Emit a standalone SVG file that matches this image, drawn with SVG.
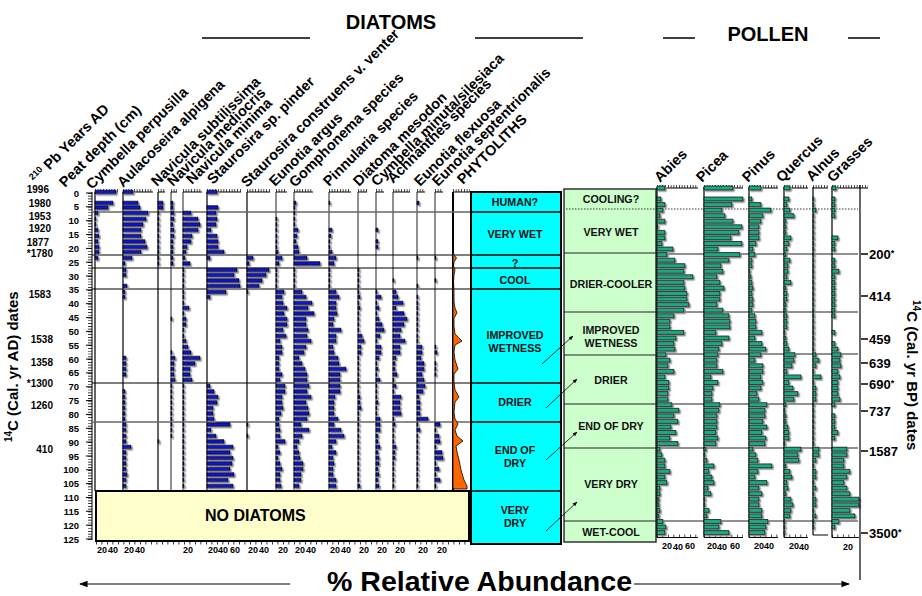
<svg xmlns="http://www.w3.org/2000/svg" width="922" height="596" viewBox="0 0 922 596">
<defs>
<filter id="sh" filterUnits="userSpaceOnUse" x="0" y="0" width="922" height="596"><feDropShadow dx="1.5" dy="1.5" stdDeviation="0" flood-color="#8c8c8c" flood-opacity="1"/></filter>
<marker id="ah" viewBox="0 0 10 10" refX="9" refY="5" markerWidth="6" markerHeight="6" orient="auto"><path d="M0 1L10 5L0 9z" fill="#000"/></marker>
<marker id="ab" viewBox="0 0 10 10" refX="9" refY="5" markerWidth="9" markerHeight="7" orient="auto"><path d="M0 1L10 5L0 9z" fill="#000"/></marker>
<style>
text{font-family:"Liberation Sans",Arial,sans-serif;font-weight:bold;fill:#000}
.hd{font-size:14.5px}
.ti{font-size:20px;text-anchor:middle}
.z{font-size:10.7px;text-anchor:middle;fill:#111}
.dp{font-size:9.5px;text-anchor:end}
.yr{font-size:10px;text-anchor:end}
.bl{font-size:9px;text-anchor:middle}
.rl{font-size:13px}
.db{fill:#0a12c8;stroke:#000;stroke-width:0.7}
.pb{fill:#1aa880;stroke:#000;stroke-width:0.7}
.ax{stroke:#000;stroke-width:1;fill:none}
.tk{stroke:#000;stroke-width:3;stroke-dasharray:0.7 2.05;fill:none}
.hl{stroke:#000;stroke-width:1.2;fill:none}
</style>
</defs>
<rect width="922" height="596" fill="#fff"/>

<g id="titles">
<text class="ti" x="391" y="29">DIATOMS</text>
<text class="ti" x="768" y="41">POLLEN</text>
<path d="M202 38H310M475 38H583M663 38H695M848 38H880" stroke="#000" stroke-width="1.5"/>
</g>

<g id="headers" class="hd">
<text class="hd" transform="translate(36,184) rotate(-45)"><tspan font-size="9" dy="-5">210</tspan><tspan dy="5"> Pb Years AD</tspan></text>
<text class="hd" transform="translate(65,188) rotate(-45)">Peat depth (cm)</text>
<text class="hd" transform="translate(92,190) rotate(-45)">Cymbella perpusilla</text>
<text class="hd" transform="translate(123,188) rotate(-45)">Aulacoseira alpigena</text>
<text class="hd" transform="translate(157,187) rotate(-45)">Navicula subtilissima</text>
<text class="hd" transform="translate(173,187) rotate(-45)">Navicula mediocris</text>
<text class="hd" transform="translate(192,185) rotate(-45)">Navicula minima</text>
<text class="hd" transform="translate(213,185) rotate(-45)">Staurosira sp. pinder</text>
<text class="hd" transform="translate(247,188) rotate(-45)">Staurosira construens v. venter</text>
<text class="hd" transform="translate(275,187) rotate(-45)">Eunotia argus</text>
<text class="hd" transform="translate(295,188) rotate(-45)">Gomphonema species</text>
<text class="hd" transform="translate(329,187) rotate(-45)">Pinnularia species</text>
<text class="hd" transform="translate(359,187) rotate(-45)">Diatoma mesodon</text>
<text class="hd" transform="translate(377,187) rotate(-45)">Cymbella minuta/silesiaca</text>
<text class="hd" transform="translate(393,184) rotate(-45)">Achnanthes species</text>
<text class="hd" transform="translate(420,187) rotate(-45)">Eunotia flexuosa</text>
<text class="hd" transform="translate(438,187) rotate(-45)">Eunotia septentrionalis</text>
<text class="hd" transform="translate(463,185) rotate(-45)">PHYTOLITHS</text>
<text class="hd" transform="translate(660,183) rotate(-45)">Abies</text>
<text class="hd" transform="translate(702,183) rotate(-45)">Picea</text>
<text class="hd" transform="translate(748,183) rotate(-45)">Pinus</text>
<text class="hd" transform="translate(782,183) rotate(-45)">Quercus</text>
<text class="hd" transform="translate(812,182) rotate(-45)">Alnus</text>
<text class="hd" transform="translate(833,183) rotate(-45)">Grasses</text>
</g>

<g id="axis-titles">
<text transform="translate(18,442) rotate(-90)" font-size="15"><tspan font-size="10" dy="-6">14</tspan><tspan dy="6">C (Cal. yr AD) dates</tspan></text>
<text transform="translate(907,300) rotate(90)" font-size="15"><tspan font-size="10" dy="-6">14</tspan><tspan dy="6">C (Cal. yr BP) dates</tspan></text>
<text x="327" y="591" font-size="28" textLength="305" lengthAdjust="spacingAndGlyphs">% Relative Abundance</text>
<path d="M290 584H80" stroke="#000" stroke-width="1.2" marker-end="url(#ab)"/>
<path d="M634 584H849" stroke="#000" stroke-width="1.2" marker-end="url(#ab)"/>
</g>

<g id="years" class="yr">
<text class="yr" x="49" y="193">1996</text>
<text class="yr" x="51" y="207">1980</text>
<text class="yr" x="51" y="220">1953</text>
<text class="yr" x="51" y="232">1920</text>
<text class="yr" x="49" y="245.5">1877</text>
<text class="yr" x="53" y="256.5">*1780</text>
<text class="yr" x="51" y="298">1583</text>
<text class="yr" x="53" y="343">1538</text>
<text class="yr" x="53" y="366">1358</text>
<text class="yr" x="53" y="387">*1300</text>
<text class="yr" x="53" y="409">1260</text>
<text class="yr" x="53" y="453">410</text>
</g>

<g id="depth-axis">
<path d="M92 192V540" class="ax"/>
<path d="M90 193V540" stroke="#000" stroke-width="4" stroke-dasharray="0.7 2.07" fill="none"/>
<path d="M86 193h6M86 206.8h6M86 220.7h6M86 234.5h6M86 248.4h6M86 262.2h6M86 276h6M86 289.9h6M86 303.7h6M86 317.6h6M86 331.4h6M86 345.2h6M86 359.1h6M86 372.9h6M86 386.8h6M86 400.6h6M86 414.4h6M86 428.3h6M86 442.1h6M86 456h6M86 469.8h6M86 483.6h6M86 497.5h6M86 511.3h6M86 525.2h6M86 539h6" class="ax"/>
<text class="dp" x="79" y="196.5">0</text><text class="dp" x="79" y="210.3">5</text><text class="dp" x="79" y="224.2">10</text><text class="dp" x="79" y="238">15</text><text class="dp" x="79" y="251.9">20</text><text class="dp" x="79" y="265.7">25</text><text class="dp" x="79" y="279.5">30</text><text class="dp" x="79" y="293.4">35</text><text class="dp" x="79" y="307.2">40</text><text class="dp" x="79" y="321.1">45</text><text class="dp" x="79" y="334.9">50</text><text class="dp" x="79" y="348.7">55</text><text class="dp" x="79" y="362.6">60</text><text class="dp" x="79" y="376.4">65</text><text class="dp" x="79" y="390.3">70</text><text class="dp" x="79" y="404.1">75</text><text class="dp" x="79" y="417.9">80</text><text class="dp" x="79" y="431.8">85</text><text class="dp" x="79" y="445.6">90</text><text class="dp" x="79" y="459.5">95</text><text class="dp" x="79" y="473.3">100</text><text class="dp" x="79" y="487.1">105</text><text class="dp" x="79" y="501">110</text><text class="dp" x="79" y="514.8">115</text><text class="dp" x="79" y="528.7">120</text><text class="dp" x="79" y="542.5">125</text>
</g>

<g id="diatom-frame">
<path d="M95 192V491M123 192V491M158 192V491M207 192V491M247 192V491" stroke="#000" stroke-width="1.2"/>
<path d="M171 192V491M183 192V491M276 192V491M294 192V491M329 192V491M358 192V491M376 192V491M393 192V491M417 192V491M435 192V491" stroke="#555" stroke-width="1.3"/>
<path d="M453 192V491" stroke="#000" stroke-width="2"/>
<path d="M95 192H118M123 192H153M158 192H165M171 192H177M183 192H202M207 192H241M247 192H270M276 192H287M294 192H313M329 192H351M358 192H367M376 192H384M393 192H410M417 192H425M435 192H443M453 192H470" class="ax"/>
<path d="M95 190.5H118M123 190.5H153M158 190.5H165M171 190.5H177M183 190.5H202M207 190.5H241M247 190.5H270M276 190.5H287M294 190.5H313M329 190.5H351M358 190.5H367M376 190.5H384M393 190.5H410M417 190.5H425M435 190.5H443M453 190.5H470" class="tk"/>
<path d="M92 212H471" stroke="#666" stroke-width="1.3"/>
<path d="M92 255H471M92 268H471M92 289H471M92 383H471" class="hl"/>
<path d="M92 422H471" stroke="#666" stroke-width="1.3"/>
</g>

<g id="diatom-bars" class="db" filter="url(#sh)">
<path transform="translate(0,192)" d="M95-1.8h21v3.6h-21zM123-1.8h10v3.6h-10zM207-1.8h10v3.6h-10z"/>
<path transform="translate(0,203)" d="M95-1.8h18v3.6h-18zM123-1.8h15v3.6h-15zM158-1.8h5v3.6h-5zM171-1.8h2v3.6h-2zM294-1.8h2v3.6h-2zM329-1.8h1v3.6h-1zM417-1.8h2v3.6h-2z"/>
<path transform="translate(0,207.5)" d="M95-1.8h13v3.6h-13zM123-1.8h17v3.6h-17zM158-1.8h5v3.6h-5zM171-1.8h2v3.6h-2zM207-1.8h11v3.6h-11zM294-1.8h1v3.6h-1z"/>
<path transform="translate(0,213)" d="M95-1.8h3v3.6h-3zM123-1.8h25v3.6h-25zM158-1.8h1v3.6h-1zM171-1.8h3v3.6h-3zM183-1.8h8v3.6h-8zM207-1.8h9v3.6h-9zM294-1.8h1v3.6h-1z"/>
<path transform="translate(0,219)" d="M95-1.8h1v3.6h-1zM123-1.8h23v3.6h-23zM158-1.8h1v3.6h-1zM171-1.8h3v3.6h-3zM183-1.8h15v3.6h-15zM207-1.8h10v3.6h-10zM276-1.8h1v3.6h-1zM294-1.8h1v3.6h-1z"/>
<path transform="translate(0,224.5)" d="M95-1.8h1v3.6h-1zM123-1.8h20v3.6h-20zM158-1.8h1v3.6h-1zM171-1.8h2v3.6h-2zM183-1.8h17v3.6h-17zM207-1.8h9v3.6h-9zM276-1.8h1v3.6h-1zM294-1.8h1v3.6h-1z"/>
<path transform="translate(0,230)" d="M95-1.8h3v3.6h-3zM123-1.8h18v3.6h-18zM158-1.8h1v3.6h-1zM171-1.8h3v3.6h-3zM183-1.8h15v3.6h-15zM207-1.8h4v3.6h-4zM276-1.8h1v3.6h-1zM294-1.8h4v3.6h-4zM329-1.8h3v3.6h-3zM376-1.8h2v3.6h-2z"/>
<path transform="translate(0,236)" d="M95-1.8h4v3.6h-4zM123-1.8h18v3.6h-18zM158-1.8h1v3.6h-1zM171-1.8h3v3.6h-3zM183-1.8h9v3.6h-9zM207-1.8h10v3.6h-10zM276-1.8h1v3.6h-1zM294-1.8h3v3.6h-3zM329-1.8h2v3.6h-2z"/>
<path transform="translate(0,241.5)" d="M95-1.8h3v3.6h-3zM123-1.8h22v3.6h-22zM158-1.8h1v3.6h-1zM171-1.8h2v3.6h-2zM183-1.8h8v3.6h-8zM207-1.8h11v3.6h-11zM276-1.8h1v3.6h-1zM294-1.8h2v3.6h-2zM329-1.8h1v3.6h-1zM376-1.8h2v3.6h-2z"/>
<path transform="translate(0,247)" d="M95-1.8h4v3.6h-4zM123-1.8h24v3.6h-24zM158-1.8h1v3.6h-1zM171-1.8h2v3.6h-2zM183-1.8h4v3.6h-4zM207-1.8h11v3.6h-11zM276-1.8h1v3.6h-1zM294-1.8h4v3.6h-4zM329-1.8h1v3.6h-1zM376-1.8h2v3.6h-2z"/>
<path transform="translate(0,252)" d="M95-1.8h4v3.6h-4zM123-1.8h18v3.6h-18zM158-1.8h1v3.6h-1zM171-1.8h2v3.6h-2zM183-1.8h3v3.6h-3zM207-1.8h17v3.6h-17zM276-1.8h2v3.6h-2zM294-1.8h5v3.6h-5zM329-1.8h3v3.6h-3z"/>
<path transform="translate(0,258)" d="M95-1.8h3v3.6h-3zM123-1.8h9v3.6h-9zM158-1.8h1v3.6h-1zM171-1.8h2v3.6h-2zM183-1.8h2v3.6h-2zM207-1.8h3v3.6h-3zM247-1.8h6v3.6h-6zM276-1.8h6v3.6h-6zM294-1.8h13v3.6h-13zM329-1.8h7v3.6h-7zM417-1.8h1v3.6h-1zM435-1.8h1v3.6h-1z"/>
<path transform="translate(0,263.5)" d="M123-1.8h2v3.6h-2zM158-1.8h1v3.6h-1zM171-1.8h2v3.6h-2zM183-1.8h7v3.6h-7zM247-1.8h2v3.6h-2zM276-1.8h3v3.6h-3zM294-1.8h26v3.6h-26zM329-1.8h5v3.6h-5z"/>
<path transform="translate(0,270)" d="M123-1.8h3v3.6h-3zM183-1.8h1v3.6h-1zM207-1.8h30v3.6h-30zM247-1.8h22v3.6h-22zM276-1.8h1v3.6h-1zM294-1.8h1v3.6h-1zM329-1.8h1v3.6h-1zM358-1.8h1v3.6h-1z"/>
<path transform="translate(0,275)" d="M123-1.8h3v3.6h-3zM183-1.8h1v3.6h-1zM207-1.8h27v3.6h-27zM247-1.8h19v3.6h-19zM276-1.8h1v3.6h-1zM294-1.8h1v3.6h-1zM329-1.8h1v3.6h-1zM358-1.8h1v3.6h-1z"/>
<path transform="translate(0,280.5)" d="M183-1.8h1v3.6h-1zM207-1.8h32v3.6h-32zM247-1.8h15v3.6h-15zM276-1.8h1v3.6h-1zM294-1.8h1v3.6h-1zM329-1.8h1v3.6h-1zM358-1.8h1v3.6h-1zM393-1.8h1v3.6h-1zM435-1.8h1v3.6h-1z"/>
<path transform="translate(0,286)" d="M123-1.8h4v3.6h-4zM183-1.8h1v3.6h-1zM207-1.8h33v3.6h-33zM247-1.8h12v3.6h-12zM276-1.8h1v3.6h-1zM294-1.8h1v3.6h-1zM329-1.8h1v3.6h-1zM358-1.8h1v3.6h-1zM417-1.8h1v3.6h-1z"/>
<path transform="translate(0,292)" d="M123-1.8h2v3.6h-2zM183-1.8h1v3.6h-1zM207-1.8h19v3.6h-19zM247-1.8h1v3.6h-1zM276-1.8h8v3.6h-8zM294-1.8h8v3.6h-8zM329-1.8h7v3.6h-7zM358-1.8h1v3.6h-1zM376-1.8h1v3.6h-1zM393-1.8h3v3.6h-3z"/>
<path transform="translate(0,297)" d="M123-1.8h2v3.6h-2zM183-1.8h1v3.6h-1zM207-1.8h3v3.6h-3zM276-1.8h6v3.6h-6zM294-1.8h12v3.6h-12zM329-1.8h10v3.6h-10zM358-1.8h2v3.6h-2zM376-1.8h5v3.6h-5zM393-1.8h5v3.6h-5zM417-1.8h1v3.6h-1z"/>
<path transform="translate(0,303)" d="M183-1.8h1v3.6h-1zM276-1.8h7v3.6h-7zM294-1.8h18v3.6h-18zM329-1.8h7v3.6h-7zM358-1.8h1v3.6h-1zM376-1.8h1v3.6h-1zM393-1.8h10v3.6h-10zM417-1.8h1v3.6h-1z"/>
<path transform="translate(0,308)" d="M183-1.8h6v3.6h-6zM276-1.8h11v3.6h-11zM294-1.8h14v3.6h-14zM329-1.8h7v3.6h-7zM358-1.8h2v3.6h-2zM376-1.8h3v3.6h-3zM393-1.8h3v3.6h-3zM417-1.8h1v3.6h-1z"/>
<path transform="translate(0,313.5)" d="M183-1.8h1v3.6h-1zM276-1.8h8v3.6h-8zM294-1.8h20v3.6h-20zM329-1.8h8v3.6h-8zM358-1.8h1v3.6h-1zM376-1.8h1v3.6h-1zM393-1.8h11v3.6h-11zM417-1.8h1v3.6h-1z"/>
<path transform="translate(0,319)" d="M171-1.8h1v3.6h-1zM183-1.8h3v3.6h-3zM276-1.8h11v3.6h-11zM294-1.8h12v3.6h-12zM329-1.8h5v3.6h-5zM358-1.8h1v3.6h-1zM376-1.8h3v3.6h-3zM393-1.8h14v3.6h-14zM417-1.8h1v3.6h-1z"/>
<path transform="translate(0,324.5)" d="M183-1.8h3v3.6h-3zM276-1.8h11v3.6h-11zM294-1.8h12v3.6h-12zM329-1.8h4v3.6h-4zM358-1.8h1v3.6h-1zM376-1.8h6v3.6h-6zM393-1.8h11v3.6h-11zM417-1.8h1v3.6h-1z"/>
<path transform="translate(0,330)" d="M183-1.8h1v3.6h-1zM276-1.8h7v3.6h-7zM294-1.8h14v3.6h-14zM329-1.8h12v3.6h-12zM358-1.8h1v3.6h-1zM376-1.8h8v3.6h-8zM393-1.8h8v3.6h-8zM417-1.8h1v3.6h-1z"/>
<path transform="translate(0,336)" d="M183-1.8h1v3.6h-1zM276-1.8h10v3.6h-10zM294-1.8h13v3.6h-13zM329-1.8h7v3.6h-7zM358-1.8h4v3.6h-4zM376-1.8h4v3.6h-4zM393-1.8h7v3.6h-7zM417-1.8h1v3.6h-1z"/>
<path transform="translate(0,341)" d="M183-1.8h3v3.6h-3zM276-1.8h4v3.6h-4zM294-1.8h17v3.6h-17zM329-1.8h7v3.6h-7zM358-1.8h6v3.6h-6zM376-1.8h1v3.6h-1zM393-1.8h12v3.6h-12zM417-1.8h1v3.6h-1z"/>
<path transform="translate(0,347)" d="M183-1.8h5v3.6h-5zM276-1.8h6v3.6h-6zM294-1.8h12v3.6h-12zM329-1.8h4v3.6h-4zM358-1.8h3v3.6h-3zM376-1.8h5v3.6h-5zM393-1.8h7v3.6h-7zM417-1.8h5v3.6h-5zM435-1.8h1v3.6h-1z"/>
<path transform="translate(0,352.5)" d="M171-1.8h1v3.6h-1zM183-1.8h8v3.6h-8zM276-1.8h6v3.6h-6zM294-1.8h10v3.6h-10zM329-1.8h5v3.6h-5zM358-1.8h3v3.6h-3zM376-1.8h5v3.6h-5zM393-1.8h7v3.6h-7zM417-1.8h5v3.6h-5zM435-1.8h2v3.6h-2z"/>
<path transform="translate(0,358)" d="M123-1.8h3v3.6h-3zM171-1.8h4v3.6h-4zM183-1.8h17v3.6h-17zM276-1.8h3v3.6h-3zM294-1.8h5v3.6h-5zM329-1.8h9v3.6h-9zM358-1.8h1v3.6h-1zM376-1.8h3v3.6h-3zM393-1.8h3v3.6h-3zM417-1.8h4v3.6h-4z"/>
<path transform="translate(0,363.5)" d="M123-1.8h3v3.6h-3zM171-1.8h3v3.6h-3zM183-1.8h12v3.6h-12zM276-1.8h3v3.6h-3zM294-1.8h8v3.6h-8zM329-1.8h10v3.6h-10zM358-1.8h1v3.6h-1zM376-1.8h1v3.6h-1zM393-1.8h2v3.6h-2zM417-1.8h7v3.6h-7zM435-1.8h1v3.6h-1z"/>
<path transform="translate(0,369)" d="M123-1.8h3v3.6h-3zM171-1.8h3v3.6h-3zM183-1.8h7v3.6h-7zM276-1.8h3v3.6h-3zM294-1.8h11v3.6h-11zM329-1.8h17v3.6h-17zM358-1.8h1v3.6h-1zM376-1.8h2v3.6h-2zM393-1.8h2v3.6h-2zM417-1.8h7v3.6h-7zM435-1.8h1v3.6h-1z"/>
<path transform="translate(0,374.5)" d="M123-1.8h3v3.6h-3zM171-1.8h3v3.6h-3zM183-1.8h7v3.6h-7zM276-1.8h6v3.6h-6zM294-1.8h13v3.6h-13zM329-1.8h11v3.6h-11zM358-1.8h1v3.6h-1zM376-1.8h1v3.6h-1zM393-1.8h4v3.6h-4zM417-1.8h5v3.6h-5zM435-1.8h1v3.6h-1z"/>
<path transform="translate(0,380)" d="M171-1.8h4v3.6h-4zM183-1.8h9v3.6h-9zM276-1.8h4v3.6h-4zM294-1.8h13v3.6h-13zM329-1.8h11v3.6h-11zM358-1.8h1v3.6h-1zM376-1.8h4v3.6h-4zM393-1.8h1v3.6h-1zM417-1.8h7v3.6h-7z"/>
<path transform="translate(0,386)" d="M171-1.8h1v3.6h-1zM183-1.8h1v3.6h-1zM207-1.8h3v3.6h-3zM276-1.8h9v3.6h-9zM294-1.8h15v3.6h-15zM329-1.8h11v3.6h-11zM358-1.8h1v3.6h-1zM376-1.8h1v3.6h-1zM393-1.8h3v3.6h-3zM417-1.8h8v3.6h-8z"/>
<path transform="translate(0,391.5)" d="M123-1.8h2v3.6h-2zM171-1.8h1v3.6h-1zM183-1.8h1v3.6h-1zM207-1.8h7v3.6h-7zM276-1.8h9v3.6h-9zM294-1.8h13v3.6h-13zM329-1.8h11v3.6h-11zM358-1.8h1v3.6h-1zM376-1.8h1v3.6h-1zM393-1.8h1v3.6h-1zM417-1.8h6v3.6h-6z"/>
<path transform="translate(0,397)" d="M123-1.8h2v3.6h-2zM171-1.8h1v3.6h-1zM183-1.8h1v3.6h-1zM207-1.8h11v3.6h-11zM276-1.8h6v3.6h-6zM294-1.8h17v3.6h-17zM329-1.8h6v3.6h-6zM358-1.8h2v3.6h-2zM376-1.8h1v3.6h-1zM393-1.8h8v3.6h-8zM417-1.8h2v3.6h-2z"/>
<path transform="translate(0,402.5)" d="M123-1.8h2v3.6h-2zM171-1.8h1v3.6h-1zM183-1.8h1v3.6h-1zM207-1.8h10v3.6h-10zM276-1.8h6v3.6h-6zM294-1.8h12v3.6h-12zM329-1.8h5v3.6h-5zM358-1.8h2v3.6h-2zM376-1.8h2v3.6h-2zM393-1.8h7v3.6h-7zM417-1.8h3v3.6h-3z"/>
<path transform="translate(0,408)" d="M123-1.8h2v3.6h-2zM171-1.8h1v3.6h-1zM183-1.8h1v3.6h-1zM207-1.8h6v3.6h-6zM276-1.8h7v3.6h-7zM294-1.8h14v3.6h-14zM329-1.8h5v3.6h-5zM358-1.8h3v3.6h-3zM376-1.8h1v3.6h-1zM393-1.8h7v3.6h-7zM417-1.8h3v3.6h-3z"/>
<path transform="translate(0,413.5)" d="M123-1.8h2v3.6h-2zM171-1.8h1v3.6h-1zM183-1.8h1v3.6h-1zM207-1.8h6v3.6h-6zM276-1.8h5v3.6h-5zM294-1.8h15v3.6h-15zM329-1.8h5v3.6h-5zM358-1.8h1v3.6h-1zM376-1.8h1v3.6h-1zM393-1.8h8v3.6h-8zM417-1.8h3v3.6h-3z"/>
<path transform="translate(0,419)" d="M123-1.8h2v3.6h-2zM171-1.8h1v3.6h-1zM183-1.8h1v3.6h-1zM207-1.8h7v3.6h-7zM276-1.8h3v3.6h-3zM294-1.8h13v3.6h-13zM329-1.8h9v3.6h-9zM358-1.8h1v3.6h-1zM376-1.8h4v3.6h-4zM393-1.8h1v3.6h-1zM417-1.8h11v3.6h-11z"/>
<path transform="translate(0,424.5)" d="M123-1.8h3v3.6h-3zM171-1.8h1v3.6h-1zM183-1.8h1v3.6h-1zM207-1.8h23v3.6h-23zM247-1.8h1v3.6h-1zM276-1.8h3v3.6h-3zM294-1.8h7v3.6h-7zM329-1.8h5v3.6h-5zM358-1.8h1v3.6h-1zM376-1.8h4v3.6h-4zM393-1.8h2v3.6h-2zM417-1.8h1v3.6h-1zM435-1.8h5v3.6h-5z"/>
<path transform="translate(0,430)" d="M123-1.8h3v3.6h-3zM171-1.8h1v3.6h-1zM183-1.8h1v3.6h-1zM207-1.8h4v3.6h-4zM276-1.8h4v3.6h-4zM294-1.8h15v3.6h-15zM329-1.8h12v3.6h-12zM358-1.8h1v3.6h-1zM376-1.8h4v3.6h-4zM393-1.8h1v3.6h-1zM417-1.8h3v3.6h-3zM435-1.8h1v3.6h-1z"/>
<path transform="translate(0,436)" d="M123-1.8h3v3.6h-3zM171-1.8h1v3.6h-1zM183-1.8h1v3.6h-1zM207-1.8h9v3.6h-9zM247-1.8h1v3.6h-1zM276-1.8h4v3.6h-4zM294-1.8h8v3.6h-8zM329-1.8h15v3.6h-15zM358-1.8h1v3.6h-1zM376-1.8h2v3.6h-2zM393-1.8h1v3.6h-1zM417-1.8h1v3.6h-1zM435-1.8h4v3.6h-4z"/>
<path transform="translate(0,441.5)" d="M123-1.8h3v3.6h-3zM158-1.8h1v3.6h-1zM183-1.8h1v3.6h-1zM207-1.8h17v3.6h-17zM276-1.8h9v3.6h-9zM294-1.8h5v3.6h-5zM329-1.8h7v3.6h-7zM358-1.8h1v3.6h-1zM376-1.8h2v3.6h-2zM393-1.8h1v3.6h-1zM417-1.8h1v3.6h-1zM435-1.8h5v3.6h-5z"/>
<path transform="translate(0,447)" d="M123-1.8h8v3.6h-8zM183-1.8h1v3.6h-1zM207-1.8h26v3.6h-26zM276-1.8h2v3.6h-2zM294-1.8h3v3.6h-3zM329-1.8h3v3.6h-3zM358-1.8h1v3.6h-1zM376-1.8h4v3.6h-4zM393-1.8h3v3.6h-3zM417-1.8h1v3.6h-1zM435-1.8h1v3.6h-1z"/>
<path transform="translate(0,452.5)" d="M123-1.8h3v3.6h-3zM183-1.8h1v3.6h-1zM207-1.8h23v3.6h-23zM276-1.8h4v3.6h-4zM294-1.8h5v3.6h-5zM329-1.8h7v3.6h-7zM358-1.8h1v3.6h-1zM376-1.8h2v3.6h-2zM393-1.8h2v3.6h-2zM417-1.8h1v3.6h-1zM435-1.8h7v3.6h-7z"/>
<path transform="translate(0,458)" d="M123-1.8h3v3.6h-3zM183-1.8h1v3.6h-1zM207-1.8h26v3.6h-26zM276-1.8h2v3.6h-2zM294-1.8h6v3.6h-6zM329-1.8h4v3.6h-4zM358-1.8h1v3.6h-1zM376-1.8h3v3.6h-3zM393-1.8h2v3.6h-2zM417-1.8h1v3.6h-1zM435-1.8h8v3.6h-8z"/>
<path transform="translate(0,463.5)" d="M123-1.8h3v3.6h-3zM183-1.8h1v3.6h-1zM207-1.8h25v3.6h-25zM276-1.8h4v3.6h-4zM294-1.8h9v3.6h-9zM329-1.8h5v3.6h-5zM358-1.8h1v3.6h-1zM376-1.8h3v3.6h-3zM393-1.8h1v3.6h-1zM417-1.8h1v3.6h-1zM435-1.8h1v3.6h-1z"/>
<path transform="translate(0,469)" d="M123-1.8h3v3.6h-3zM183-1.8h1v3.6h-1zM207-1.8h23v3.6h-23zM276-1.8h6v3.6h-6zM294-1.8h9v3.6h-9zM329-1.8h4v3.6h-4zM358-1.8h1v3.6h-1zM376-1.8h2v3.6h-2zM393-1.8h1v3.6h-1zM417-1.8h1v3.6h-1zM435-1.8h4v3.6h-4z"/>
<path transform="translate(0,474.5)" d="M123-1.8h4v3.6h-4zM183-1.8h1v3.6h-1zM207-1.8h27v3.6h-27zM276-1.8h4v3.6h-4zM294-1.8h7v3.6h-7zM329-1.8h4v3.6h-4zM358-1.8h1v3.6h-1zM376-1.8h3v3.6h-3zM393-1.8h1v3.6h-1zM417-1.8h1v3.6h-1zM435-1.8h1v3.6h-1z"/>
<path transform="translate(0,480)" d="M123-1.8h3v3.6h-3zM183-1.8h1v3.6h-1zM207-1.8h21v3.6h-21zM276-1.8h4v3.6h-4zM294-1.8h7v3.6h-7zM329-1.8h7v3.6h-7zM358-1.8h1v3.6h-1zM376-1.8h2v3.6h-2zM393-1.8h1v3.6h-1zM417-1.8h1v3.6h-1zM435-1.8h5v3.6h-5z"/>
<path transform="translate(0,486)" d="M123-1.8h3v3.6h-3zM183-1.8h1v3.6h-1zM207-1.8h26v3.6h-26zM276-1.8h5v3.6h-5zM294-1.8h5v3.6h-5zM329-1.8h7v3.6h-7zM358-1.8h2v3.6h-2zM376-1.8h3v3.6h-3zM393-1.8h1v3.6h-1zM417-1.8h1v3.6h-1zM435-1.8h1v3.6h-1z"/>
</g>

<g id="phytoliths">
<path d="M453 250L454 255L456.5 258L454 262L453.5 266L455 270L454 275L453.5 282L454 292L454 302L455 308L457 313L454 318L454 326L455 334L462 341L455 345L454 352L455 360L458 369L454 374L454 382L455 390L459 397L455 402L454 412L455 419L458 424L455 430L457 436L463 441L456 446L457 452L459 460L461 470L464 480L467 486L467 489L453 489Z" fill="#ff6600" stroke="#000" stroke-width="0.8"/>
</g>

<g id="no-diatoms">
<rect x="96" y="491" width="373" height="50" fill="#ffffcc" stroke="#000" stroke-width="2"/>
<text x="205" y="520.5" font-size="16">NO DIATOMS</text>
<path d="M96 543H469" stroke="#000" stroke-width="3" stroke-dasharray="0.8 4.7"/>
<g class="bl">
<text class="bl" x="102" y="553">20</text><text class="bl" x="113" y="553">40</text>
<text class="bl" x="129" y="553">20</text><text class="bl" x="140" y="553">40</text>
<text class="bl" x="188" y="553">20</text>
<text class="bl" x="213" y="553">20</text><text class="bl" x="223" y="553">40</text><text class="bl" x="235" y="553">60</text>
<text class="bl" x="253" y="553">20</text><text class="bl" x="264" y="553">40</text>
<text class="bl" x="283" y="553">20</text>
<text class="bl" x="300" y="553">20</text><text class="bl" x="311" y="553">40</text>
<text class="bl" x="335" y="553">20</text><text class="bl" x="346" y="553">40</text>
<text class="bl" x="364" y="553">20</text>
<text class="bl" x="382" y="553">20</text>
<text class="bl" x="400" y="553">20</text>
<text class="bl" x="423" y="553">20</text>
<text class="bl" x="442" y="553">20</text>
</g>
</g>

<g id="zones-diatom">
<rect x="471" y="192" width="90" height="352" fill="#00ffff" stroke="#000" stroke-width="2"/>
<path d="M471 212H561M471 255H561M471 268H561M471 289H561M471 383H561M471 422H561M471 491H561" stroke="#000" stroke-width="1.3"/>
<text class="z" x="515" y="206">HUMAN?</text>
<text class="z" x="515" y="238">VERY WET</text>
<text class="z" x="515" y="267">?</text>
<text class="z" x="515" y="284">COOL</text>
<text class="z" x="515" y="339">IMPROVED</text>
<text class="z" x="515" y="352">WETNESS</text>
<text class="z" x="515" y="406">DRIER</text>
<text class="z" x="515" y="454">END OF</text>
<text class="z" x="515" y="467">DRY</text>
<text class="z" x="515" y="514">VERY</text>
<text class="z" x="515" y="527">DRY</text>
</g>

<g id="zones-pollen">
<rect x="564" y="189" width="92" height="353" fill="#ccffcc" stroke="#333" stroke-width="1.5"/>
<path d="M564 253H656M564 312H656M564 355H656M564 404H656M564 448H656M564 521H656" stroke="#222" stroke-width="1.1"/>
<text class="z" x="611" y="203">COOLING?</text>
<text class="z" x="611" y="236">VERY WET</text>
<text class="z" x="611" y="288">DRIER-COOLER</text>
<text class="z" x="611" y="334">IMPROVED</text>
<text class="z" x="611" y="347">WETNESS</text>
<text class="z" x="611" y="384">DRIER</text>
<text class="z" x="611" y="430">END OF DRY</text>
<text class="z" x="611" y="488">VERY DRY</text>
<text class="z" x="611" y="536">WET-COOL</text>
</g>

<g id="connectors" stroke="#000" stroke-width="0.8" fill="none" marker-end="url(#ah)">
<path d="M542 364L573 336"/>
<path d="M546 408L577 379"/>
<path d="M546 460L577 432"/>
<path d="M546 531L577 502"/>
</g>

<g id="pollen-frame">
<path d="M566 209H858" stroke="#333" stroke-width="1" stroke-dasharray="1.5 1.5"/>
<path d="M656 254H858M656 312H858M656 354H858M656 404H858M656 448H858M656 521H858" stroke="#222" stroke-width="1.1"/>
<path d="M657 187V537.5M704 187V537.5M749 187V537.5M784 187V537.5M813 187V535M832 187V537.5" stroke="#000" stroke-width="1.2"/>
<path d="M657 188H698M704 188H743M749 188H778M784 188H808M813 188H828M832 188H868" class="ax"/>
<path d="M657 186.5H698M704 186.5H743M749 186.5H778M784 186.5H808M813 186.5H828M832 186.5H868" class="tk"/>
<path d="M657 537.5H698M704 537.5H743M749 537.5H778M784 537.5H808M813 535H828M832 537.5H859" class="ax"/>
<path d="M657 536H698M704 536H743M749 536H778M784 536H808M832 536H859" stroke="#000" stroke-width="3" stroke-dasharray="0.7 4.8"/>
<g class="bl">
<text class="bl" x="667" y="549">20</text><text class="bl" x="678" y="550">40</text><text class="bl" x="690" y="549">60</text>
<text class="bl" x="712" y="549">20</text><text class="bl" x="722" y="550">40</text><text class="bl" x="735" y="549">60</text>
<text class="bl" x="759" y="549">20</text><text class="bl" x="769" y="549">40</text>
<text class="bl" x="794" y="549">20</text><text class="bl" x="804" y="550">40</text>
<text class="bl" x="848" y="550">20</text>
</g>
</g>

<g id="pollen-bars" class="pb" filter="url(#sh)">
<path transform="translate(0,188)" d="M657-2h8v4h-8zM704-2h29v4h-29zM749-2h12v4h-12zM784-2h6v4h-6zM832-2h4v4h-4z"/>
<path transform="translate(0,199)" d="M657-2h4v4h-4zM704-2h39v4h-39zM749-2h3v4h-3zM784-2h5v4h-5zM813-2h1v4h-1zM832-2h3v4h-3z"/>
<path transform="translate(0,204.6)" d="M657-2h8v4h-8zM704-2h28v4h-28zM749-2h12v4h-12zM784-2h3v4h-3zM813-2h1v4h-1zM832-2h3v4h-3z"/>
<path transform="translate(0,210.1)" d="M657-2h6v4h-6zM704-2h18v4h-18zM749-2h22v4h-22zM784-2h6v4h-6zM813-2h3v4h-3zM832-2h3v4h-3z"/>
<path transform="translate(0,215.7)" d="M657-2h3v4h-3zM704-2h21v4h-21zM749-2h14v4h-14zM784-2h10v4h-10zM813-2h1v4h-1zM832-2h3v4h-3z"/>
<path transform="translate(0,221.2)" d="M657-2h8v4h-8zM704-2h29v4h-29zM749-2h12v4h-12zM784-2h2v4h-2zM813-2h1v4h-1z"/>
<path transform="translate(0,226.8)" d="M657-2h1v4h-1zM704-2h38v4h-38zM749-2h10v4h-10zM784-2h2v4h-2zM813-2h1v4h-1z"/>
<path transform="translate(0,232.4)" d="M657-2h8v4h-8zM704-2h35v4h-35zM749-2h10v4h-10zM784-2h2v4h-2zM813-2h1v4h-1z"/>
<path transform="translate(0,237.9)" d="M657-2h8v4h-8zM704-2h27v4h-27zM749-2h10v4h-10zM784-2h7v4h-7zM813-2h1v4h-1zM832-2h6v4h-6z"/>
<path transform="translate(0,243.5)" d="M657-2h5v4h-5zM704-2h38v4h-38zM749-2h7v4h-7zM784-2h5v4h-5zM813-2h1v4h-1zM832-2h3v4h-3z"/>
<path transform="translate(0,249)" d="M657-2h16v4h-16zM704-2h14v4h-14zM749-2h4v4h-4zM784-2h3v4h-3zM813-2h1v4h-1zM832-2h3v4h-3z"/>
<path transform="translate(0,254.6)" d="M657-2h10v4h-10zM704-2h36v4h-36zM749-2h6v4h-6zM784-2h2v4h-2zM813-2h1v4h-1z"/>
<path transform="translate(0,260.2)" d="M657-2h18v4h-18zM704-2h25v4h-25zM749-2h3v4h-3zM784-2h6v4h-6zM813-2h1v4h-1zM832-2h3v4h-3z"/>
<path transform="translate(0,265.7)" d="M657-2h28v4h-28zM704-2h17v4h-17zM749-2h3v4h-3zM784-2h4v4h-4zM813-2h1v4h-1zM832-2h3v4h-3z"/>
<path transform="translate(0,271.3)" d="M657-2h27v4h-27zM704-2h19v4h-19zM749-2h1v4h-1zM784-2h4v4h-4zM813-2h1v4h-1zM832-2h7v4h-7z"/>
<path transform="translate(0,276.8)" d="M657-2h36v4h-36zM704-2h13v4h-13zM749-2h2v4h-2zM784-2h3v4h-3zM813-2h1v4h-1zM832-2h3v4h-3z"/>
<path transform="translate(0,282.4)" d="M657-2h27v4h-27zM704-2h16v4h-16zM749-2h3v4h-3zM784-2h7v4h-7zM813-2h1v4h-1zM832-2h3v4h-3z"/>
<path transform="translate(0,288)" d="M657-2h28v4h-28zM704-2h20v4h-20zM749-2h4v4h-4zM784-2h2v4h-2zM813-2h1v4h-1zM832-2h3v4h-3z"/>
<path transform="translate(0,293.5)" d="M657-2h30v4h-30zM704-2h16v4h-16zM749-2h3v4h-3zM784-2h3v4h-3zM813-2h1v4h-1zM832-2h3v4h-3z"/>
<path transform="translate(0,299.1)" d="M657-2h30v4h-30zM704-2h16v4h-16zM749-2h4v4h-4zM784-2h3v4h-3zM813-2h1v4h-1zM832-2h3v4h-3z"/>
<path transform="translate(0,304.6)" d="M657-2h32v4h-32zM704-2h13v4h-13zM749-2h4v4h-4zM784-2h2v4h-2zM813-2h1v4h-1zM832-2h3v4h-3z"/>
<path transform="translate(0,310.2)" d="M657-2h27v4h-27zM704-2h19v4h-19zM749-2h3v4h-3zM784-2h2v4h-2zM813-2h1v4h-1zM832-2h3v4h-3z"/>
<path transform="translate(0,315.8)" d="M657-2h17v4h-17zM704-2h25v4h-25zM749-2h6v4h-6zM784-2h3v4h-3zM813-2h1v4h-1zM832-2h3v4h-3z"/>
<path transform="translate(0,321.3)" d="M657-2h13v4h-13zM704-2h26v4h-26zM749-2h7v4h-7zM784-2h3v4h-3zM813-2h1v4h-1z"/>
<path transform="translate(0,326.9)" d="M657-2h13v4h-13zM704-2h26v4h-26zM749-2h7v4h-7zM784-2h3v4h-3zM813-2h1v4h-1z"/>
<path transform="translate(0,332.4)" d="M657-2h27v4h-27zM704-2h12v4h-12zM749-2h13v4h-13zM784-2h1v4h-1zM813-2h1v4h-1zM832-2h3v4h-3z"/>
<path transform="translate(0,338)" d="M657-2h19v4h-19zM704-2h25v4h-25zM749-2h6v4h-6zM784-2h2v4h-2zM813-2h1v4h-1z"/>
<path transform="translate(0,343.6)" d="M657-2h17v4h-17zM704-2h18v4h-18zM749-2h13v4h-13zM784-2h3v4h-3zM813-2h1v4h-1zM832-2h3v4h-3z"/>
<path transform="translate(0,349.1)" d="M657-2h18v4h-18zM704-2h15v4h-15zM749-2h17v4h-17zM784-2h5v4h-5zM813-2h1v4h-1zM832-2h6v4h-6z"/>
<path transform="translate(0,354.7)" d="M657-2h9v4h-9zM704-2h14v4h-14zM749-2h12v4h-12zM784-2h11v4h-11zM813-2h3v4h-3zM832-2h9v4h-9z"/>
<path transform="translate(0,360.2)" d="M657-2h13v4h-13zM704-2h13v4h-13zM749-2h6v4h-6zM784-2h10v4h-10zM813-2h6v4h-6zM832-2h8v4h-8z"/>
<path transform="translate(0,365.8)" d="M657-2h11v4h-11zM704-2h13v4h-13zM749-2h14v4h-14zM784-2h8v4h-8zM813-2h3v4h-3zM832-2h9v4h-9z"/>
<path transform="translate(0,371.4)" d="M657-2h17v4h-17zM704-2h19v4h-19zM749-2h14v4h-14zM784-2h3v4h-3zM813-2h1v4h-1zM832-2h6v4h-6z"/>
<path transform="translate(0,376.9)" d="M657-2h8v4h-8zM704-2h7v4h-7zM749-2h12v4h-12zM784-2h17v4h-17zM813-2h8v4h-8zM832-2h8v4h-8z"/>
<path transform="translate(0,382.5)" d="M657-2h12v4h-12zM704-2h14v4h-14zM749-2h14v4h-14zM784-2h5v4h-5zM813-2h1v4h-1zM832-2h6v4h-6z"/>
<path transform="translate(0,388)" d="M657-2h12v4h-12zM704-2h9v4h-9zM749-2h12v4h-12zM784-2h9v4h-9zM813-2h3v4h-3zM832-2h6v4h-6z"/>
<path transform="translate(0,393.6)" d="M657-2h11v4h-11zM704-2h8v4h-8zM749-2h8v4h-8zM784-2h14v4h-14zM813-2h3v4h-3zM832-2h6v4h-6z"/>
<path transform="translate(0,399.2)" d="M657-2h11v4h-11zM704-2h8v4h-8zM749-2h10v4h-10zM784-2h10v4h-10zM813-2h3v4h-3zM832-2h8v4h-8z"/>
<path transform="translate(0,404.7)" d="M657-2h15v4h-15zM704-2h16v4h-16zM749-2h18v4h-18zM784-2h2v4h-2zM813-2h1v4h-1zM832-2h3v4h-3z"/>
<path transform="translate(0,410.3)" d="M657-2h22v4h-22zM704-2h15v4h-15zM749-2h16v4h-16zM784-2h1v4h-1zM813-2h1v4h-1z"/>
<path transform="translate(0,415.8)" d="M657-2h17v4h-17zM704-2h13v4h-13zM749-2h16v4h-16zM784-2h2v4h-2zM813-2h1v4h-1zM832-2h3v4h-3z"/>
<path transform="translate(0,421.4)" d="M657-2h21v4h-21zM704-2h13v4h-13zM749-2h14v4h-14zM784-2h2v4h-2zM813-2h1v4h-1zM832-2h3v4h-3z"/>
<path transform="translate(0,427)" d="M657-2h14v4h-14zM704-2h13v4h-13zM749-2h18v4h-18zM784-2h4v4h-4zM813-2h1v4h-1zM832-2h3v4h-3z"/>
<path transform="translate(0,432.5)" d="M657-2h19v4h-19zM704-2h12v4h-12zM749-2h13v4h-13zM784-2h5v4h-5zM813-2h1v4h-1zM832-2h6v4h-6z"/>
<path transform="translate(0,438.1)" d="M657-2h13v4h-13zM704-2h14v4h-14zM749-2h17v4h-17zM784-2h5v4h-5zM813-2h1v4h-1zM832-2h3v4h-3z"/>
<path transform="translate(0,443.6)" d="M657-2h21v4h-21zM704-2h12v4h-12zM749-2h16v4h-16zM784-2h1v4h-1zM813-2h1v4h-1z"/>
<path transform="translate(0,449.2)" d="M657-2h3v4h-3zM704-2h2v4h-2zM749-2h4v4h-4zM784-2h17v4h-17zM813-2h6v4h-6zM832-2h15v4h-15z"/>
<path transform="translate(0,454.8)" d="M657-2h5v4h-5zM704-2h1v4h-1zM749-2h7v4h-7zM784-2h14v4h-14zM813-2h6v4h-6zM832-2h15v4h-15z"/>
<path transform="translate(0,460.3)" d="M657-2h8v4h-8zM704-2h3v4h-3zM749-2h9v4h-9zM784-2h15v4h-15zM813-2h3v4h-3zM832-2h12v4h-12z"/>
<path transform="translate(0,465.9)" d="M657-2h8v4h-8zM704-2h10v4h-10zM749-2h23v4h-23zM784-2h2v4h-2zM813-2h1v4h-1zM832-2h12v4h-12z"/>
<path transform="translate(0,471.4)" d="M657-2h13v4h-13zM704-2h5v4h-5zM749-2h9v4h-9zM784-2h6v4h-6zM813-2h3v4h-3zM832-2h18v4h-18z"/>
<path transform="translate(0,477)" d="M657-2h8v4h-8zM704-2h8v4h-8zM749-2h6v4h-6zM784-2h8v4h-8zM813-2h3v4h-3zM832-2h15v4h-15z"/>
<path transform="translate(0,482.6)" d="M657-2h10v4h-10zM704-2h10v4h-10zM749-2h18v4h-18zM784-2h3v4h-3zM813-2h1v4h-1zM832-2h12v4h-12z"/>
<path transform="translate(0,488.1)" d="M657-2h3v4h-3zM704-2h4v4h-4zM749-2h10v4h-10zM784-2h4v4h-4zM813-2h3v4h-3zM832-2h15v4h-15z"/>
<path transform="translate(0,493.7)" d="M657-2h3v4h-3zM704-2h7v4h-7zM749-2h13v4h-13zM784-2h2v4h-2zM813-2h1v4h-1zM832-2h18v4h-18z"/>
<path transform="translate(0,499.2)" d="M657-2h2v4h-2zM704-2h1v4h-1zM749-2h10v4h-10zM784-2h7v4h-7zM813-2h3v4h-3zM832-2h27v4h-27z"/>
<path transform="translate(0,504.8)" d="M657-2h2v4h-2zM704-2h1v4h-1zM749-2h10v4h-10zM784-2h9v4h-9zM813-2h3v4h-3zM832-2h27v4h-27z"/>
<path transform="translate(0,510.4)" d="M657-2h3v4h-3zM704-2h5v4h-5zM749-2h13v4h-13zM784-2h7v4h-7zM813-2h1v4h-1zM832-2h18v4h-18z"/>
<path transform="translate(0,515.9)" d="M657-2h2v4h-2zM704-2h3v4h-3zM749-2h13v4h-13zM784-2h6v4h-6zM813-2h3v4h-3zM832-2h23v4h-23z"/>
<path transform="translate(0,521.5)" d="M657-2h6v4h-6zM704-2h17v4h-17zM749-2h19v4h-19zM784-2h1v4h-1zM813-2h1v4h-1zM832-2h7v4h-7z"/>
<path transform="translate(0,527)" d="M657-2h9v4h-9zM704-2h15v4h-15zM749-2h17v4h-17zM784-2h1v4h-1zM813-2h1v4h-1zM832-2h3v4h-3z"/>
<path transform="translate(0,532.6)" d="M657-2h8v4h-8zM704-2h25v4h-25zM749-2h16v4h-16zM784-2h1v4h-1z"/>
</g>

<g id="bp-axis">
<path d="M860 185V580" stroke="#000" stroke-width="1.2"/>
<path d="M861 254h7M861 296h7M861 339h7M861 363h7M861 384h7M861 411h7M861 451h7M861 533h7" stroke="#000" stroke-width="1.3"/>
<text class="rl" x="869" y="258.5">200<tspan font-size="9" dy="-3">*</tspan></text>
<text class="rl" x="869" y="300.5">414</text>
<text class="rl" x="869" y="343.5">459</text>
<text class="rl" x="869" y="367.5">639</text>
<text class="rl" x="869" y="388.5">690<tspan font-size="9" dy="-3">*</tspan></text>
<text class="rl" x="869" y="415.5">737</text>
<text class="rl" x="869" y="455.5">1587</text>
<text class="rl" x="869" y="537.5">3500<tspan font-size="9" dy="-3">*</tspan></text>
</g>
</svg>
